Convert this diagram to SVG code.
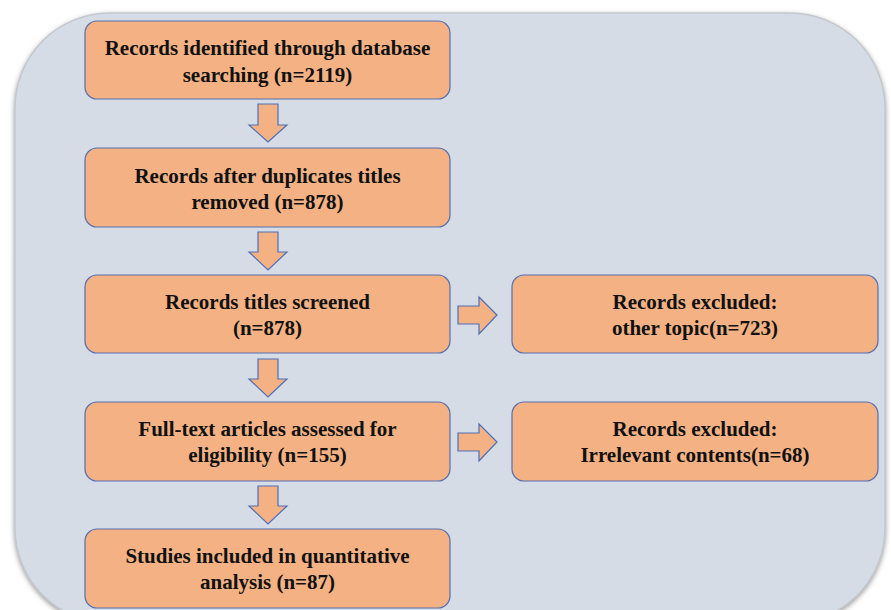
<svg xmlns="http://www.w3.org/2000/svg" width="891" height="610" viewBox="0 0 891 610">
<style>
.box{fill:#F4B183;stroke:#5470B0;stroke-width:1.2}
.arr{fill:#F4B183;stroke:#4C6FB8;stroke-width:1.2;stroke-linejoin:miter}
text{font-family:"Liberation Serif","Times New Roman",serif;font-weight:bold;font-size:21px;fill:#111;text-anchor:middle}
</style>
<defs>
<filter id="sh" x="-5%" y="-5%" width="110%" height="110%">
<feDropShadow dx="0" dy="2" stdDeviation="2.5" flood-color="#808080" flood-opacity="0.8"/>
</filter>
</defs>
<rect width="891" height="610" fill="#ffffff"/>
<rect x="15" y="13" width="870" height="610" rx="95" ry="95" fill="#D6DCE5" stroke="#C4C8CE" stroke-width="1.5" filter="url(#sh)"/>
<g id="connectors">
<path class="arr" d="M258,104 H278 V125 H287 L268,142 L249,125 H258 Z"/>
<path class="arr" d="M258,232 H278 V252 H287 L268,270 L249,252 H258 Z"/>
<path class="arr" d="M258,359 H278 V379 H287 L268,397 L249,379 H258 Z"/>
<path class="arr" d="M258,486 H278 V506 H287 L268,524 L249,506 H258 Z"/>
<path class="arr" d="M458,306 H479 V297 L497,315 L479,334 V324 H458 Z"/>
<path class="arr" d="M458,433 H479 V424 L497,442 L479,461 V451 H458 Z"/>
</g>
<g id="n1"><rect class="box" x="85" y="21" width="365" height="78" rx="12"/>
<text x="267.5" y="55">Records identified through database</text><text x="267.5" y="82">searching (n=2119)</text></g>
<g id="n2"><rect class="box" x="85" y="148" width="365" height="79" rx="12"/>
<text x="267.5" y="183">Records after duplicates titles</text><text x="267.5" y="209">removed (n=878)</text></g>
<g id="n3"><rect class="box" x="85" y="275" width="365" height="78" rx="12"/>
<text x="267.5" y="309">Records titles screened</text><text x="267.5" y="335">(n=878)</text></g>
<g id="n4"><rect class="box" x="85" y="402" width="365" height="79" rx="12"/>
<text x="267.5" y="436">Full-text articles assessed for</text><text x="267.5" y="462">eligibility (n=155)</text></g>
<g id="n5"><rect class="box" x="85" y="529" width="365" height="79" rx="12"/>
<text x="267.5" y="563">Studies included in quantitative</text><text x="267.5" y="589">analysis (n=87)</text></g>
<g id="n6"><rect class="box" x="512" y="275" width="366" height="78" rx="12"/>
<text x="695" y="309">Records excluded:</text><text x="695" y="335">other topic(n=723)</text></g>
<g id="n7"><rect class="box" x="512" y="402" width="366" height="79" rx="12"/>
<text x="695" y="436">Records excluded:</text><text x="695" y="462">Irrelevant contents(n=68)</text></g>
</svg>
